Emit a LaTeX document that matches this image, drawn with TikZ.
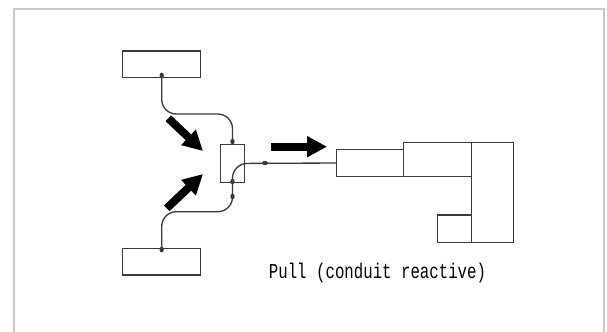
\documentclass[tikz,border=0pt]{standalone}
\usepackage{fontspec}
\usepackage{tikz}
\usetikzlibrary{arrows.meta}

\newfontfamily\labelfont{Liberation Mono}
\definecolor{ink}{HTML}{3A3A3A}
\definecolor{frame}{HTML}{C8C8C8}

\tikzset{
	part/.style={draw=ink, line width=0.9pt, inner sep=0pt, outer sep=0pt},
	cable/.style={draw=ink, line width=1pt, rounded corners=11pt},
	push/.style={line width=6pt, -{Triangle[length=15pt,width=15pt]}}
}

\begin{document}
\begin{tikzpicture}[x=0.75pt, y=-0.75pt]

	\useasboundingbox (0,0) rectangle (607,332);
	\draw[frame, line width=1.5pt] (14,340) -- (14,9) -- (604,9) -- (604,340);

	% handles and joint
	\node[part, minimum width=58.5pt, minimum height=19.9pt] (ptop) at (161.7,64.2) {};
	\node[part, minimum width=58.5pt, minimum height=20pt] (pbot) at (161.7,261.7) {};
	\node[part, minimum width=18.2pt, minimum height=28.8pt] (joint) at (232.5,163.5) {};

	% lever assembly
	\node[part, minimum width=50pt, minimum height=20.6pt] (sleeve) at (370,163) {};
	\node[part, anchor=south west, minimum width=51.3pt, minimum height=25.5pt] (clamp) at (sleeve.south east) {};
	\node[part, anchor=north west, minimum width=31.2pt, minimum height=75pt] (post) at (clamp.north east) {};
	\node[part, anchor=south east, minimum width=25.8pt, minimum height=20.8pt] (foot) at (post.south west) {};

	\coordinate (upbend) at (200,114);
	\coordinate (lowbend) at (200,211.7);

	\draw[cable] (ptop.south) |- (upbend) -| (joint.north);
	\draw[cable] (pbot.north) |- (lowbend) -| (joint.center) -- (sleeve.west);

	\foreach \x / \y in {
	161.7/75.5,
	232.5/141.5,
	161.7/249.5,
	232.5/181.5,
	232.5/196.5}
	{
		\fill[ink] (\x,\y) ellipse [x radius=1.6pt, y radius=2.2pt];
	};
	\fill[ink] (265,163) ellipse [x radius=2.2pt, y radius=1.6pt];

	\draw[push] (168.3,118.3) -- (203,151);
	\draw[push] (166.7,208.3) -- (203,174);
	\draw[push] (271,146.7) -- (327,146.7);

	\node[font=\labelfont\fontsize{11.8}{14}\selectfont] (caption) at (377.5,273)
		{\scalebox{1}[1.35]{Pull (conduit reactive)}};
\end{tikzpicture}
\end{document}
